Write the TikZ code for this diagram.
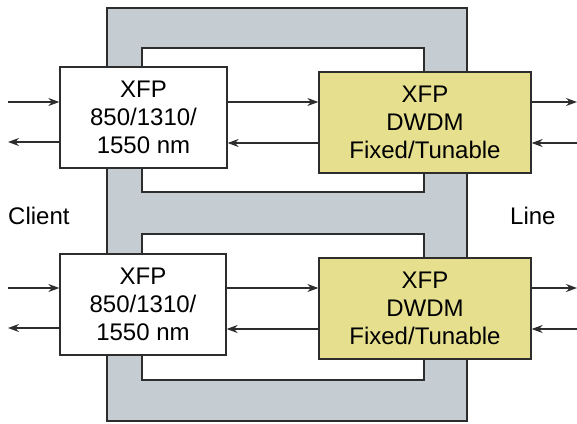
\documentclass[tikz,border=0pt]{standalone}
\usepackage{fontspec}
\setmainfont{Liberation Sans}
\usetikzlibrary{arrows.meta}
\definecolor{panelgray}{RGB}{197,205,210}
\definecolor{xfpyellow}{RGB}{230,224,142}
\definecolor{edge}{RGB}{45,45,45}
\begin{document}
\begin{tikzpicture}[x=1pt,y=-1pt,
  every node/.style={font=\fontsize{24}{28}\selectfont},
  clientbox/.style={draw=edge,line width=1.3pt,fill=white,align=center,minimum height=101pt,inner sep=0pt},
  linebox/.style={draw=edge,line width=1.3pt,fill=xfpyellow,align=center,minimum width=212pt,minimum height=101pt,inner sep=0pt},
  frame/.style={draw=edge,line width=1.3pt},
  sig/.style={line width=1.2pt,draw=edge,-{Stealth[length=11pt,width=8pt]}}]
\useasboundingbox (0,0) rectangle (577,423);
% grey module and inner loops
\draw[frame,fill=panelgray] (107,8) rectangle (467,421);
\draw[frame,fill=white] (142,48) rectangle (424,192);
\draw[frame,fill=white] (142,234) rectangle (424,380);
% boxes
\node[clientbox,minimum width=167pt] (c1) at (143.5,117.5) {XFP\\850/1310/\\1550 nm};
\node[linebox] (l1) at (425,122.5) {XFP\\DWDM\\Fixed/Tunable};
\node[clientbox,minimum width=166pt] (c2) at (143,304.5) {XFP\\850/1310/\\1550 nm};
\node[linebox] (l2) at (425,308.5) {XFP\\DWDM\\Fixed/Tunable};
% labels
\node[anchor=west,inner sep=0pt] (client) at (8,216) {Client};
\node[anchor=west,inner sep=0pt] (line) at (510,216) {Line};
% free ends
\coordinate (a1) at (8,102);
\coordinate (a2) at (8,142);
\coordinate (a3) at (577,102);
\coordinate (b1) at (8,288);
\coordinate (b2) at (8,328);
\coordinate (b3) at (577,289);
% upper path
\coordinate (u1) at ([yshift=20.5pt]l1.west);
\coordinate (u2) at ([yshift=-20.5pt]l1.west);
\coordinate (r1) at ([yshift=20.5pt]l1.east);
\coordinate (r2) at ([yshift=-20.5pt]l1.east);
\draw[sig] (a1) -- (c1.west |- a1);
\draw[sig] (c1.west |- a2) -- (a2);
\draw[sig] (c1.east |- u1) -- (u1);
\draw[sig] (u2) -- (c1.east |- u2);
\draw[sig] (r1) -- (a3 |- r1);
\draw[sig] (a3 |- r2) -- (r2);
% lower path
\coordinate (v1) at ([yshift=20.5pt]l2.west);
\coordinate (v2) at ([yshift=-20.5pt]l2.west);
\coordinate (w1) at ([yshift=20.5pt]l2.east);
\coordinate (w2) at ([yshift=-20.5pt]l2.east);
\draw[sig] (b1) -- (c2.west |- b1);
\draw[sig] (c2.west |- b2) -- (b2);
\draw[sig] (c2.east |- v1) -- (v1);
\draw[sig] (v2) -- (c2.east |- v2);
\draw[sig] (w1) -- (b3 |- w1);
\draw[sig] (b3 |- w2) -- (w2);
\end{tikzpicture}
\end{document}
